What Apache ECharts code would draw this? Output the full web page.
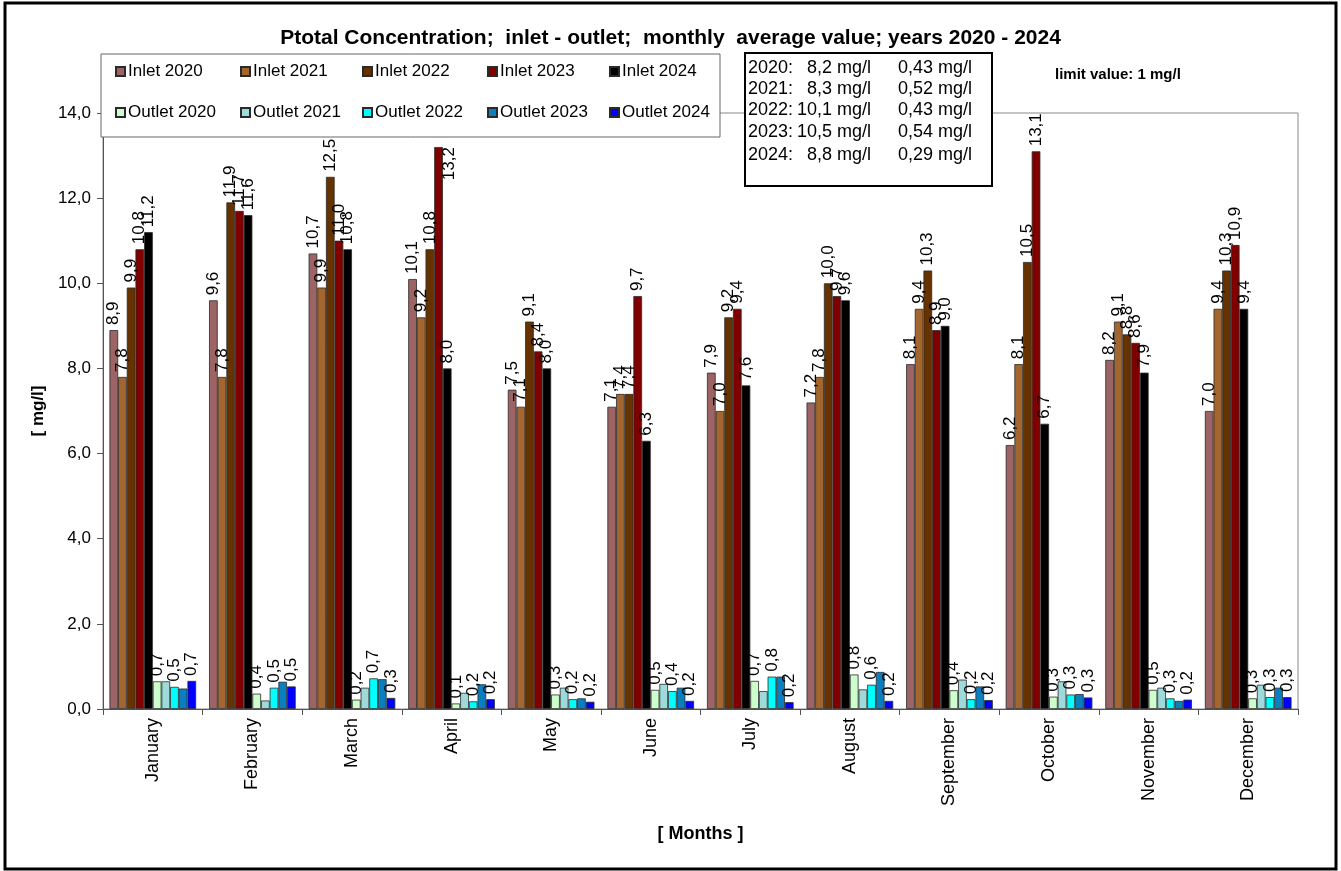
<!DOCTYPE html>
<html>
<head>
<meta charset="utf-8">
<script src="https://cdn.jsdelivr.net/npm/echarts@6/dist/echarts.min.js"></script>
<style>
html,body{margin:0;padding:0;background:#fff;}
#chart{width:1341px;height:871px;}
</style>
</head>
<body>
<div id="chart"></div>
<script>
const months = ['January','February','March','April','May','June','July','August','September','October','November','December'];
const seriesNames = ['Inlet 2020','Inlet 2021','Inlet 2022','Inlet 2023','Inlet 2024','Outlet 2020','Outlet 2021','Outlet 2022','Outlet 2023','Outlet 2024'];
const inlet2020 = [8.9, 9.6, 10.7, 10.1, 7.5, 7.1, 7.9, 7.2, 8.1, 6.2, 8.2, 7.0];
const inlet2021 = [7.8, 7.8, 9.9, 9.2, 7.1, 7.4, 7.0, 7.8, 9.4, 8.1, 9.1, 9.4];
const inlet2022 = [9.9, 11.9, 12.5, 10.8, 9.1, 7.4, 9.2, 10.0, 10.3, 10.5, 8.8, 10.3];
const inlet2023 = [10.8, 11.7, 11.0, 13.2, 8.4, 9.7, 9.4, 9.7, 8.9, 13.1, 8.6, 10.9];
const inlet2024 = [11.2, 11.6, 10.8, 8.0, 8.0, 6.3, 7.6, 9.6, 9.0, 6.7, 7.9, 9.4];
const outlet2020 = [0.65, 0.36, 0.22, 0.13, 0.34, 0.45, 0.66, 0.81, 0.44, 0.29, 0.45, 0.25];
const outlet2021 = [0.65, 0.20, 0.50, 0.38, 0.50, 0.59, 0.42, 0.46, 0.69, 0.65, 0.50, 0.57];
const outlet2022 = [0.52, 0.50, 0.72, 0.18, 0.23, 0.42, 0.76, 0.57, 0.23, 0.34, 0.25, 0.28];
const outlet2023 = [0.48, 0.64, 0.70, 0.58, 0.25, 0.50, 0.76, 0.87, 0.53, 0.35, 0.19, 0.50];
const outlet2024 = [0.66, 0.53, 0.26, 0.23, 0.17, 0.19, 0.16, 0.19, 0.21, 0.27, 0.22, 0.28];
const yTicks = [0, 2, 4, 6, 8, 10, 12, 14];
const statYears = ['2020:', '2021:', '2022:', '2023:', '2024:'];
const statInlet = ['8,2 mg/l', '8,3 mg/l', '10,1 mg/l', '10,5 mg/l', '8,8 mg/l'];
const statOutlet = ['0,43 mg/l', '0,52 mg/l', '0,43 mg/l', '0,54 mg/l', '0,29 mg/l'];

const allData = [inlet2020, inlet2021, inlet2022, inlet2023, inlet2024, outlet2020, outlet2021, outlet2022, outlet2023, outlet2024];
const colors = ['#9c6464','#a3662f','#663300','#800000','#000000','#ccffcc','#9fdada','#00ffff','#0a7fc0','#0000ff'];
const showLabel = [true,true,true,true,true,true,false,true,false,true];
// labels placed beside the bar top (as in the reference, where the legend box is above)
const sideLabels = [[3, 3]];
const FONT = '"Liberation Sans", Arial, sans-serif';
const fmt = v => Number(v).toFixed(1).replace('.', ',');

const series = seriesNames.map((n, i) => ({
  name: n,
  type: 'bar',
  data: allData[i].map((v, j) => sideLabels.some(s => s[0] === i && s[1] === j)
    ? { value: v, label: { position: [15, 0], align: 'right', verticalAlign: 'middle' } }
    : v),
  barGap: '0%',
  barCategoryGap: '13%',
  itemStyle: { color: colors[i], borderColor: '#2a2a2a', borderWidth: 0.8 },
  label: {
    show: showLabel[i], position: 'top', rotate: 90, align: 'left', verticalAlign: 'middle',
    distance: 5, fontSize: 17, fontFamily: FONT, color: '#000',
    formatter: p => fmt(p.value)
  },
  emphasis: { disabled: true }
}));

const legendX = [115, 240, 362, 487, 609];
const legends = seriesNames.map((n, i) => ({
  data: [n],
  left: legendX[i % 5],
  top: (i < 5 ? 73 : 114) - 10,
  padding: 0,
  itemWidth: 9, itemHeight: 9, itemGap: 0,
  icon: 'rect',
  selectedMode: false,
  z: 200,
  textStyle: { fontSize: 17, fontFamily: FONT, color: '#000', padding: [0, 0, 0, -2] }
}));

const graphics = [
  { type: 'rect', z: 100, shape: { x: 5, y: 3, width: 1331, height: 866 }, style: { fill: 'none', stroke: '#000', lineWidth: 3 } },
  { type: 'rect', z: 100, shape: { x: 101, y: 54, width: 619, height: 83 }, style: { fill: '#fff', stroke: '#666', lineWidth: 1 } },
  { type: 'rect', z: 100, shape: { x: 745, y: 53, width: 247, height: 133 }, style: { fill: '#fff', stroke: '#000', lineWidth: 2 } },
  { type: 'text', z: 101, x: 1055, y: 75, style: { text: 'limit value: 1 mg/l', font: 'bold 15px ' + FONT, fill: '#000', textVerticalAlign: 'middle' } }
];
const statY = [68, 89, 110, 132, 155];
statYears.forEach((y, i) => {
  graphics.push({ type: 'text', z: 101, x: 748, y: statY[i], style: { text: y, font: '18px ' + FONT, fill: '#000', textAlign: 'left', textVerticalAlign: 'middle' } });
  graphics.push({ type: 'text', z: 101, x: 871, y: statY[i], style: { text: statInlet[i], font: '18px ' + FONT, fill: '#000', textAlign: 'right', textVerticalAlign: 'middle' } });
  graphics.push({ type: 'text', z: 101, x: 898, y: statY[i], style: { text: statOutlet[i], font: '18px ' + FONT, fill: '#000', textAlign: 'left', textVerticalAlign: 'middle' } });
});

const chart = echarts.init(document.getElementById('chart'), null, { renderer: 'canvas' });
chart.setOption({
  backgroundColor: '#fff',
  animation: false,
  title: {
    text: 'Ptotal Concentration;  inlet - outlet;  monthly  average value; years 2020 - 2024',
    left: 'center', top: 23,
    textStyle: { fontSize: 21, fontWeight: 'bold', fontFamily: FONT, color: '#000' }
  },
  legend: legends,
  grid: { left: 103, top: 113, right: 43, bottom: 162, show: true, borderColor: '#888', borderWidth: 1, containLabel: false },
  xAxis: {
    type: 'category',
    data: months,
    name: '[ Months ]',
    nameLocation: 'middle',
    nameGap: 116,
    nameTextStyle: { fontSize: 18, fontWeight: 'bold', fontFamily: FONT, color: '#000' },
    axisLine: { lineStyle: { color: '#555', width: 1 } },
    axisTick: { show: true, length: 6, lineStyle: { color: '#555' } },
    axisLabel: { rotate: 90, fontSize: 18, fontFamily: FONT, color: '#000', margin: 9 }
  },
  yAxis: {
    type: 'value',
    min: yTicks[0], max: yTicks[yTicks.length - 1], interval: 2,
    name: '[ mg/l]',
    nameLocation: 'middle',
    nameGap: 53,
    nameRotate: 90,
    nameTextStyle: { fontSize: 17, fontWeight: 'bold', fontFamily: FONT, color: '#000' },
    axisLine: { show: true, lineStyle: { color: '#555', width: 1 } },
    axisTick: { show: true, length: 6, lineStyle: { color: '#555' } },
    splitLine: { show: false },
    axisLabel: { fontSize: 17, fontFamily: FONT, color: '#000', margin: 12, formatter: v => fmt(v) }
  },
  graphic: graphics,
  series: series
});
</script>
</body>
</html>
